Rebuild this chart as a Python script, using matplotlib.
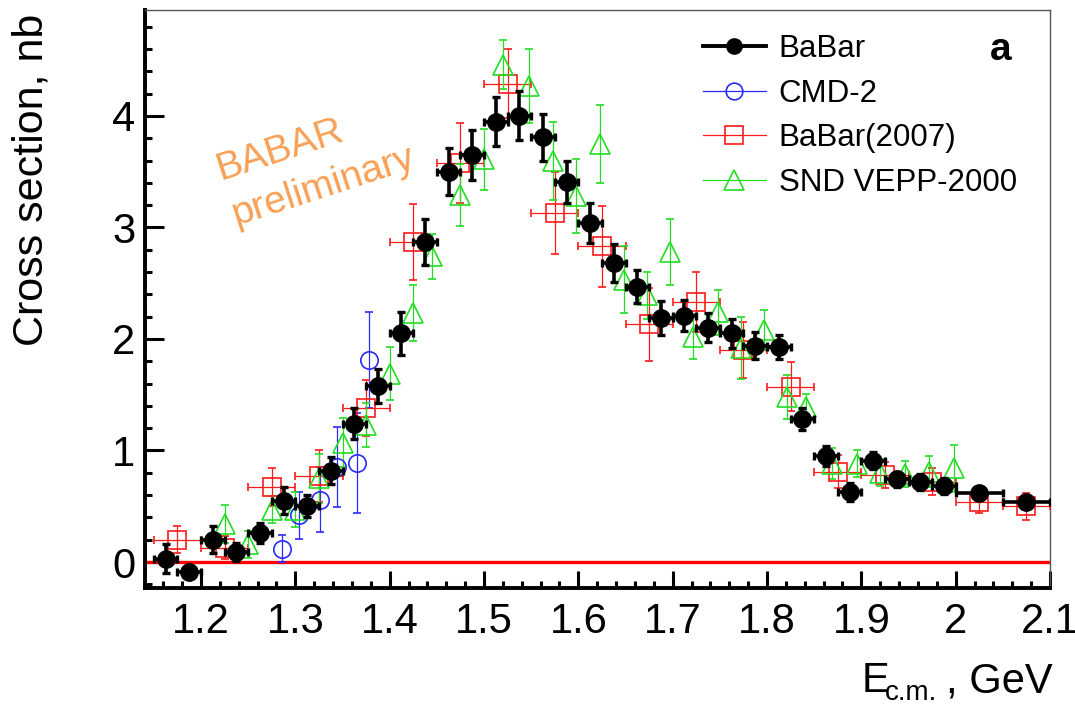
import matplotlib
matplotlib.use('Agg')
import matplotlib.pyplot as plt
from matplotlib.lines import Line2D
from matplotlib.ticker import MultipleLocator, FuncFormatter

plt.rcParams['font.family'] = ['Liberation Sans', 'DejaVu Sans']

# ── BaBar (this analysis) ─────────────────────────────────────────────────────
babar_e = [1.1625, 1.1875, 1.2125, 1.2375, 1.2625, 1.2875, 1.3125, 1.3375, 1.3625, 1.3875,
           1.4125, 1.4375, 1.4625, 1.4875, 1.5125, 1.5375, 1.5625, 1.5875, 1.6125, 1.6375,
           1.6625, 1.6875, 1.7125, 1.7375, 1.7625, 1.7875, 1.8125, 1.8375, 1.8625, 1.8875,
           1.9125, 1.9375, 1.9625, 1.9875, 2.025, 2.075]
babar_sig = [0.03, -0.09, 0.20, 0.09, 0.26, 0.55, 0.50, 0.82, 1.24, 1.58,
             2.05, 2.87, 3.50, 3.65, 3.95, 4.00, 3.81, 3.41, 3.04, 2.68,
             2.47, 2.19, 2.21, 2.10, 2.05, 1.94, 1.93, 1.28, 0.95, 0.63,
             0.91, 0.74, 0.72, 0.68, 0.62, 0.54]
babar_dsig = [0.13, 0.05, 0.12, 0.08, 0.09, 0.12, 0.10, 0.12, 0.14, 0.15,
              0.19, 0.21, 0.21, 0.22, 0.22, 0.22, 0.21, 0.19, 0.18, 0.17,
              0.15, 0.15, 0.14, 0.13, 0.13, 0.12, 0.11, 0.10, 0.09, 0.08,
              0.08, 0.07, 0.07, 0.07, 0.05, 0.05]
babar_de = [0.0125] * 34 + [0.025, 0.025]

# ── CMD-2 ─────────────────────────────────────────────────────────────────────
cmd_e = [1.2855, 1.3042, 1.3262, 1.3446, 1.3651, 1.3785]
cmd_sig = [0.12, 0.42, 0.56, 0.85, 0.89, 1.81]
cmd_dsig = [0.12, 0.21, 0.29, 0.36, 0.45, 0.43]

# ── BaBar (2007) ──────────────────────────────────────────────────────────────
b07_e = [1.175, 1.225, 1.275, 1.325, 1.375, 1.425, 1.475, 1.525, 1.575, 1.625,
         1.675, 1.725, 1.775, 1.825, 1.875, 1.925, 1.975, 2.025, 2.075]
b07_sig = [0.20, 0.13, 0.67, 0.77, 1.38, 2.87, 3.58, 4.29, 3.13, 2.83,
           2.13, 2.33, 1.90, 1.57, 0.81, 0.78, 0.72, 0.54, 0.50]
b07_dsig = [0.12, 0.10, 0.17, 0.23, 0.25, 0.34, 0.36, 0.31, 0.37, 0.36,
            0.33, 0.27, 0.25, 0.22, 0.15, 0.12, 0.12, 0.10, 0.12]

# ── SND VEPP-2000 ─────────────────────────────────────────────────────────────
snd_e = [1.225, 1.250, 1.275, 1.300, 1.325, 1.350, 1.375, 1.400, 1.425, 1.445,
         1.475, 1.500, 1.520, 1.548, 1.573, 1.598, 1.623, 1.648, 1.673, 1.697,
         1.722, 1.748, 1.772, 1.797, 1.821, 1.841, 1.869, 1.895, 1.920, 1.946,
         1.972, 1.998]
snd_sig = [0.34, 0.16, 0.47, 0.47, 0.75, 1.07, 1.23, 1.69, 2.23, 2.74,
           3.29, 3.61, 4.46, 4.27, 3.60, 3.28, 3.75, 2.53, 2.39, 2.78,
           2.02, 2.24, 1.92, 2.08, 1.48, 1.39, 0.88, 0.88, 0.80, 0.79,
           0.81, 0.84]
snd_dsig = [0.17, 0.12, 0.12, 0.16, 0.22, 0.22, 0.20, 0.24, 0.25, 0.20,
            0.28, 0.27, 0.22, 0.33, 0.35, 0.33, 0.35, 0.30, 0.21, 0.30,
            0.20, 0.20, 0.28, 0.18, 0.20, 0.12, 0.14, 0.12, 0.12, 0.12,
            0.14, 0.21]

xticks = [1.2, 1.3, 1.4, 1.5, 1.6, 1.7, 1.8, 1.9, 2.0, 2.1]
yticks = [0, 1, 2, 3, 4]

RED, GREEN, BLUE = '#ff1a1a', '#22dd22', '#2a2aff'
W, H = 1075, 705

# ── Figure ────────────────────────────────────────────────────────────────────
fig = plt.figure(figsize=(10.75, 7.05), dpi=100)
ax = fig.add_axes([145/W, 1 - 588/H, 905/W, 578/H])

ax.axhline(0, color='red', lw=2.4, zorder=2)

ax.errorbar(cmd_e, cmd_sig, yerr=cmd_dsig, fmt='o', ms=12.5, mfc='none', mec=BLUE, mew=1.2,
            ecolor=BLUE, elinewidth=0.9, capsize=3, capthick=0.9, zorder=3)
ax.errorbar(b07_e, b07_sig, xerr=0.025, yerr=b07_dsig, fmt='s', ms=13.5, mfc='none', mec=RED,
            mew=1.2, ecolor=RED, elinewidth=0.9, capsize=3, capthick=0.9, zorder=3)
ax.errorbar(snd_e, snd_sig, yerr=snd_dsig, fmt='^', ms=14, mfc='none', mec=GREEN, mew=1.2,
            ecolor=GREEN, elinewidth=0.9, capsize=3, capthick=0.9, zorder=3)
ax.errorbar(babar_e, babar_sig, xerr=babar_de, yerr=babar_dsig, fmt='o', ms=12.5, color='black',
            elinewidth=2.6, capsize=3, capthick=2.4, zorder=5)

ax.set_xlim(1.1406, 2.1)
ax.set_ylim(-0.233, 4.95)
ax.set_xticks(xticks)
ax.set_yticks(yticks)
ax.xaxis.set_minor_locator(MultipleLocator(0.02))
ax.yaxis.set_minor_locator(MultipleLocator(0.2))
ax.xaxis.set_major_formatter(FuncFormatter(lambda v, p: f'{v:g}'))
ax.tick_params(which='both', direction='in', top=False, right=False, labelsize=30, width=2.2)
ax.tick_params(axis='x', which='major', length=12, pad=10)
ax.tick_params(axis='y', which='major', length=14, pad=7)
ax.tick_params(which='minor', length=5)
for s in ['left', 'bottom']:
    ax.spines[s].set_linewidth(2.8)
for s in ['top', 'right']:
    ax.spines[s].set_linewidth(1.0)
    ax.spines[s].set_color('#555555')

# axis titles
fig.text(32/W, 1 - 14/H, 'Cross section, nb', rotation=90, ha='center', va='top', fontsize=31)
fig.text(862/W, 1 - 692/H, 'E', ha='left', va='baseline', fontsize=30)
fig.text(885/W, 1 - 700/H, 'c.m.', ha='left', va='baseline', fontsize=20)
fig.text(1053/W, 1 - 692/H, ', GeV', ha='right', va='baseline', fontsize=30)

# ── Legend ────────────────────────────────────────────────────────────────────
handles = [
    Line2D([], [], color='black', lw=2.8, marker='o', ms=11),
    Line2D([], [], color=BLUE, lw=0.9, marker='o', ms=12, mfc='none', mew=1.2),
    Line2D([], [], color=RED, lw=0.9, marker='s', ms=13, mfc='none', mew=1.2),
    Line2D([], [], color=GREEN, lw=0.9, marker='^', ms=14, mfc='none', mew=1.2),
]
labels = ['BaBar', 'CMD-2', 'BaBar(2007)', 'SND VEPP-2000']
ax.legend(handles, labels, loc='upper left', bbox_to_anchor=((703 - 145) / 905, (588 - 34) / 578),
          frameon=False, fontsize=22.5, handlelength=2.0, handletextpad=0.42,
          labelspacing=0.47, borderpad=0, borderaxespad=0)

fig.text(1001/W, 1 - 50/H, 'a', fontsize=28, fontweight='bold', ha='center', va='center')

ORANGE = '#f8a055'
fig.text(280/W, 1 - 150/H, 'BABAR', rotation=18, color=ORANGE, fontsize=28,
         ha='center', va='center', rotation_mode='anchor')
fig.text(323/W, 1 - 186/H, 'preliminary', rotation=18, color=ORANGE, fontsize=28,
         ha='center', va='center', rotation_mode='anchor')

fig.savefig('out.png', dpi=100)
